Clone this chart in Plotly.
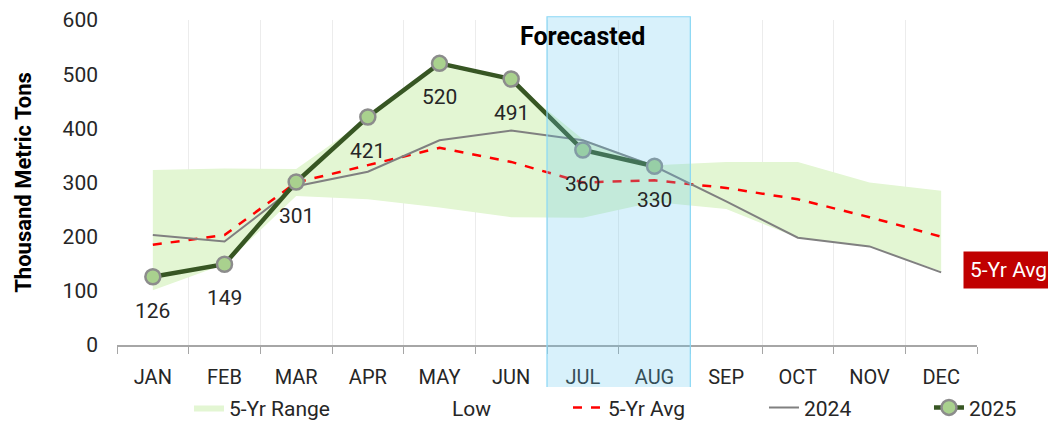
import plotly.graph_objects as go

months = ['JAN', 'FEB', 'MAR', 'APR', 'MAY', 'JUN', 'JUL', 'AUG', 'SEP', 'OCT', 'NOV', 'DEC']
range_low = [101, 149, 275, 269, 254, 236, 235, 264, 251, 198, 182, 136]
range_high = [323, 326, 325, 418, 515, 488, 380, 332, 338, 338, 300, 285]
avg_5yr = [185, 203, 300, 332, 364, 338, 300, 304, 290, 269, 236, 200]
y2024 = [203, 191, 293, 320, 378, 396, 378, 330, 265, 198, 182, 134]
months_2025 = months[:8]
y2025 = [126, 149, 301, 421, 520, 491, 360, 330]

font_main = 'Roboto'
txt = '#262626'

fig = go.Figure()
fig.add_trace(go.Scatter(
    x=months, y=range_low, name='Low', mode='lines',
    line=dict(width=0, color='rgba(0,0,0,0)'), legendrank=2, legendwidth=111,
    hoverinfo='skip'
))
fig.add_trace(go.Scatter(
    x=months, y=range_high, name='5-Yr Range', mode='lines',
    line=dict(width=0, color='#e3f6d3'), fill='tonexty', fillcolor='#e3f6d3',
    legendrank=1, legendwidth=178
))
fig.add_trace(go.Scatter(
    x=months, y=avg_5yr, name='5-Yr Avg', mode='lines',
    line=dict(color='#ff0000', width=2.5, dash='dash'), legendrank=3, legendwidth=151
))
fig.add_trace(go.Scatter(
    x=months, y=y2024, name='2024', mode='lines',
    line=dict(color='#808080', width=2), legendrank=4, legendwidth=120
))
fig.add_trace(go.Scatter(
    x=months_2025, y=y2025, name='2025', mode='lines+markers',
    line=dict(color='#375623', width=4.5),
    marker=dict(size=15, color='#a9d18e', line=dict(color='#8c8c8c', width=2.5)),
    legendrank=5, legendwidth=50
))

for m, v in zip(months_2025, y2025):
    fig.add_annotation(x=m, y=v, text=str(v), showarrow=False, yshift=-34,
                       font=dict(size=21, color=txt, family=font_main))

# forecast window box
fig.add_shape(type='rect', xref='x', yref='paper', x0=5.5, x1=7.5, y0=-0.147, y1=1.01,
              fillcolor='rgba(100,200,240,0.25)', line=dict(color='#8ad8f5', width=1.2),
              layer='above')
fig.add_annotation(x='JUL', y=570, text='<b>Forecasted</b>', showarrow=False,
                   font=dict(size=25, color='black', family=font_main))
fig.add_annotation(xref='paper', yref='y', x=1.037, xanchor='center', y=139, text='5-Yr Avg',
                   showarrow=False, bgcolor='#c00000', borderpad=6,
                   font=dict(size=21, color='white', family=font_main))

# page body has an 8px margin, so margins are offset to land the plot area right
fig.update_layout(
    width=1056, height=432,
    margin=dict(l=109, r=87, t=12, b=90),
    plot_bgcolor='white', paper_bgcolor='white',
    font=dict(family=font_main, size=20, color=txt),
    showlegend=True,
    legend=dict(orientation='h', x=0.0837, xanchor='left', y=-0.13, yanchor='top',
                traceorder='normal', font=dict(size=21, color=txt),
                tracegroupgap=0),
    xaxis=dict(type='category', range=[-0.5, 11.5], tickson='boundaries', automargin=False,
               showgrid=True, gridcolor='#ececec', gridwidth=1,
               showline=True, linecolor='#a6a6a6', linewidth=1.5,
               ticks='outside', ticklen=7, tickcolor='#a6a6a6', ticklabelstandoff=13,
               tickfont=dict(size=20, color=txt)),
    yaxis=dict(range=[0, 600], dtick=100, showgrid=False, zeroline=False, automargin=False,
               ticklabelstandoff=18, ticklabeloverflow='allow',
               title=dict(text='<b>Thousand Metric Tons</b>', font=dict(size=22, color='black'),
                          standoff=24),
               tickfont=dict(size=21, color=txt)),
)

fig.write_html('out.html')
